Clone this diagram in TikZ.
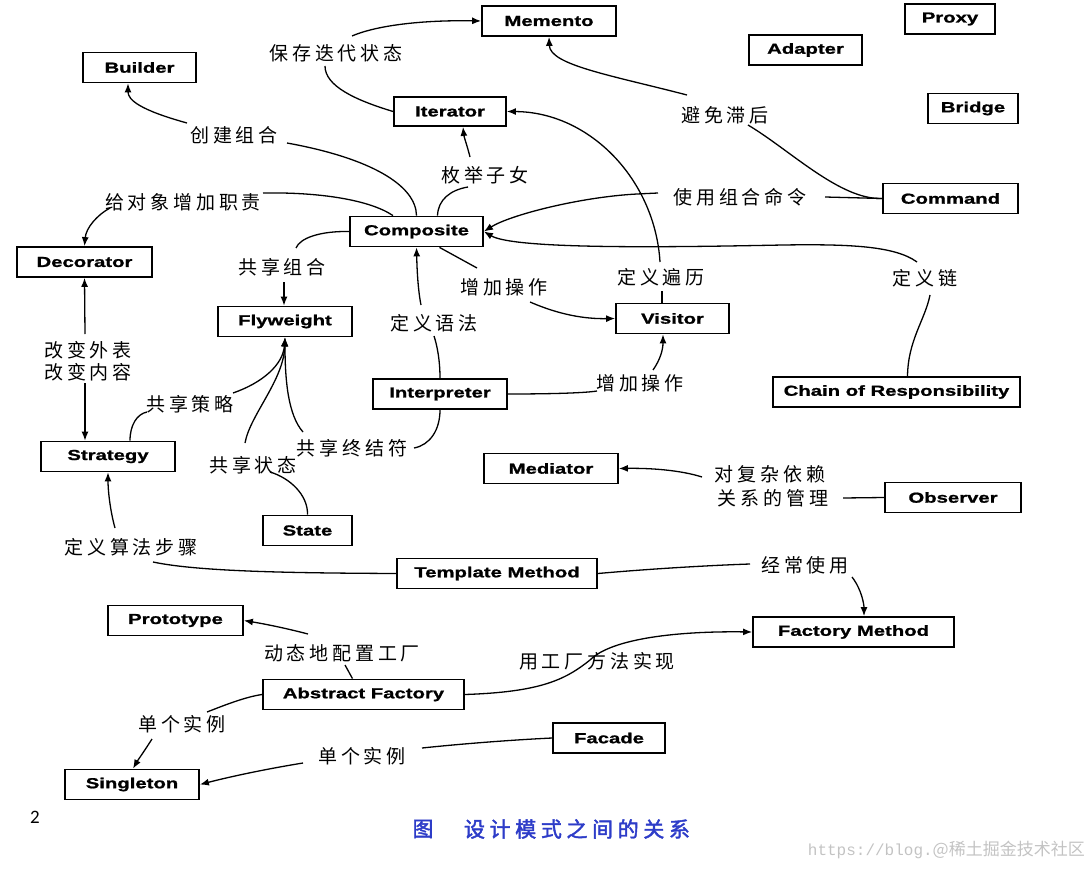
\documentclass[tikz,border=0pt]{standalone}
\usepackage{fontspec}
\usetikzlibrary{arrows.meta}
\newfontfamily\cjk[LetterSpace=20]{Noto Sans CJK SC}
\newfontfamily\cjkplain{Noto Sans CJK SC}
\newfontfamily\capfont[FakeBold=2,LetterSpace=22]{Noto Sans CJK SC}
\newfontfamily\boxfont[FakeStretch=1.4,BoldFeatures={FakeBold=1.2}]{Liberation Sans}
\newfontfamily\numfont{Carlito}
\newfontfamily\wmmono{Liberation Mono}
\definecolor{capblue}{RGB}{45,60,200}
\definecolor{wmgray}{RGB}{195,195,195}
\begin{document}
\begin{tikzpicture}[x=1pt,y=-1pt,
  pbox/.style={draw, line width=1.8pt, inner sep=0pt, minimum height=30pt,
    font=\boxfont\bfseries\fontsize{14.5}{16}\selectfont},
  lbl/.style={inner sep=0pt, font=\cjk\fontsize{19}{21}\selectfont},
  con/.style={line width=1.3pt},
  arr/.style={con, -{Latex[length=9pt,width=7pt]}}]
\useasboundingbox (0,0) rectangle (1091,869);

% boxes
\node[pbox, minimum width=134pt] (memento) at (549,21) {Memento};
\node[pbox, minimum width=90pt] (proxy) at (950,19) {Proxy};
\node[pbox, minimum width=113pt] (adapter) at (805.5,50) {Adapter};
\node[pbox, minimum width=113pt] (builder) at (139.5,67.5) {Builder};
\node[pbox, minimum width=112pt, minimum height=29pt] (iterator) at (450,111.5) {Iterator};
\node[pbox, minimum width=90pt] (bridge) at (973,108.5) {Bridge};
\node[pbox, minimum width=135pt] (command) at (950.5,198.5) {Command};
\node[pbox, minimum width=133pt] (composite) at (416.5,231.5) {Composite};
\node[pbox, minimum width=135pt] (decorator) at (84.5,262) {Decorator};
\node[pbox, minimum width=134pt] (flyweight) at (285,321.5) {Flyweight};
\node[pbox, minimum width=113pt] (visitor) at (672.5,318.5) {Visitor};
\node[pbox, minimum width=134pt] (interpreter) at (440,394) {Interpreter};
\node[pbox, minimum width=247pt] (chain) at (896.5,392) {Chain of Responsibility};
\node[pbox, minimum width=134pt] (strategy) at (108,456.5) {Strategy};
\node[pbox, minimum width=134pt] (mediator) at (551,468.5) {Mediator};
\node[pbox, minimum width=136pt] (observer) at (953,497.5) {Observer};
\node[pbox, minimum width=89pt] (state) at (307.5,530.5) {State};
\node[pbox, minimum width=200pt] (template) at (497,573.5) {Template Method};
\node[pbox, minimum width=135pt] (prototype) at (175.5,620.5) {Prototype};
\node[pbox, minimum width=201pt] (factory) at (853.5,632) {Factory Method};
\node[pbox, minimum width=201pt] (abstract) at (363.5,694.5) {Abstract Factory};
\node[pbox, minimum width=112pt] (facade) at (609,738) {Facade};
\node[pbox, minimum width=134pt] (singleton) at (132,784.5) {Singleton};

% labels
\node[lbl] (lSave) at (336,53) {保存迭代状态};
\node[lbl] (lBuild) at (234,135) {创建组合};
\node[lbl] (lDeco) at (183,202) {给对象增加职责};
\node[lbl] (lEnum) at (485,175) {枚举子女};
\node[lbl] (lAvoid) at (725,115) {避免滞后};
\node[lbl] (lUseCmd) at (740,197) {使用组合命令};
\node[lbl] (lShareComp) at (282,267) {共享组合};
\node[lbl] (lAddOpA) at (504,287) {增加操作};
\node[lbl] (lTrav) at (661,277) {定义遍历};
\node[lbl] (lChain) at (925,278) {定义链};
\node[lbl] (lGram) at (434,323) {定义语法};
\node[lbl] (lLook) at (88,350) {改变外表};
\node[lbl] (lCont) at (88,372) {改变内容};
\node[lbl] (lStrat) at (190,404) {共享策略};
\node[lbl] (lAddOpB) at (640,383) {增加操作};
\node[lbl] (lTerm) at (352,448) {共享终结符};
\node[lbl] (lState) at (253,465) {共享状态};
\node[lbl] (lCx1) at (770,474) {对复杂依赖};
\node[lbl] (lCx2) at (773,498) {关系的管理};
\node[lbl] (lAlg) at (131,547) {定义算法步骤};
\node[lbl] (lOften) at (805,565) {经常使用};
\node[lbl] (lDyn) at (342,653) {动态地配置工厂};
\node[lbl] (lImpl) at (597,661) {用工厂方法实现};
\node[lbl] (lSingA) at (182,724) {单个实例};
\node[lbl] (lSingB) at (362,756) {单个实例};

% free ends of connectors
\coordinate (s1a) at (325,66);  \coordinate (s1b) at (352,36);
\coordinate (b1) at (287,143);  \coordinate (b2) at (187,123);
\coordinate (d1) at (263,193);  \coordinate (d2) at (110,208);
\coordinate (e1) at (468,187);  \coordinate (e2) at (470,157);
\coordinate (t1) at (660,262);  \coordinate (t2) at (662,291);
\coordinate (u1) at (658,193);  \coordinate (u2) at (825,197);
\coordinate (a1) at (748,125);  \coordinate (a2) at (687,95);
\coordinate (ch1) at (930,295); \coordinate (ch2) at (917,262);
\coordinate (o1) at (477,268);  \coordinate (o2) at (530,302);
\coordinate (o3) at (597,391);  \coordinate (o4) at (653,370);
\coordinate (g1) at (434,336);  \coordinate (g2) at (421,305);
\coordinate (te1) at (414,448); \coordinate (te2) at (303,432);
\coordinate (sc1) at (296,248); \coordinate (sc2) at (284,282);
\coordinate (cl1) at (85,334);  \coordinate (cl2) at (85,383);
\coordinate (ss1) at (147,412); \coordinate (ss2) at (233,393);
\coordinate (st1) at (245,443); \coordinate (st2) at (270,472);
\coordinate (al1) at (153,562); \coordinate (al2) at (115,528);
\coordinate (cx1) at (843,498); \coordinate (cx2) at (702,477);
\coordinate (of1) at (750,564); \coordinate (of2) at (852,577);
\coordinate (dc1) at (345,665); \coordinate (dc2) at (308,634);
\coordinate (si1) at (207,712); \coordinate (si2) at (152,739);
\coordinate (si3) at (422,748); \coordinate (si4) at (303,763);

% connectors
\draw[con] (iterator.west) .. controls (355,100) and (325,86) .. (s1a);
\draw[arr] (s1b) .. controls (380,24) and (430,20) .. (memento.west);

\draw[con] (composite.north) .. controls (416,185) and (370,158) .. (b1);
\draw[arr] (b2) .. controls (140,110) and (128,100) .. ([xshift=-11.5]builder.south);

\draw[con] ([xshift=-23.5]composite.north) .. controls (370,200) and (320,192) .. (d1);
\draw[arr] (d2) .. controls (97,215) and (86,228) .. (decorator.north);

\draw[con] ([xshift=21]composite.north) .. controls (438,200) and (450,190) .. (e1);
\draw[arr] (e2) .. controls (467,145) and (464,137) .. ([xshift=13]iterator.south);

\draw[arr] (t1) .. controls (655,180) and (590,112) .. (iterator.east);
\draw[con] (t2) -- ([xshift=-10.5]visitor.north);

\draw[con] (command.west) -- (u2);
\draw[arr] (u1) -- (637,194) .. controls (580,197) and (510,215) .. (composite.east);

\draw[con] (command.west) .. controls (840,200) and (790,150) .. (a1);
\draw[arr] (a2) .. controls (610,75) and (550,65) .. (memento.south);

\draw[con] ([xshift=11]chain.north) .. controls (908,340) and (925,320) .. (ch1);
\draw[arr] (ch2) .. controls (895,246) and (850,244) .. (783,245) .. controls (680,247) and (515,250) .. (composite.east);

\draw[con] ([xshift=23]composite.south) -- (o1);
\draw[arr] (o2) .. controls (560,315) and (585,319) .. (visitor.west);

\draw[con] (interpreter.east) .. controls (550,394) and (585,393) .. (o3);
\draw[arr] (o4) .. controls (660,360) and (663,350) .. ([xshift=-9.5]visitor.south);

\draw[con] (interpreter.north) .. controls (440,360) and (437,345) .. (g1);
\draw[arr] (g2) .. controls (418,290) and (417,270) .. (composite.south);

\draw[con] (interpreter.south) .. controls (440,430) and (430,445) .. (te1);

\draw[con] (composite.west) .. controls (320,231) and (300,238) .. (sc1);
\draw[arr] (sc2) -- ([xshift=-1]flyweight.north);

\draw[arr] (cl1) -- (decorator.south);
\draw[arr] (cl2) -- ([xshift=-23]strategy.north);

\draw[con] ([xshift=22]strategy.north) .. controls (130,425) and (137,414) .. (ss1);
\draw[arr] (ss2) .. controls (262,383) and (283,365) .. (flyweight.south);
\draw[arr] (st1) .. controls (250,415) and (284,380) .. (flyweight.south);
\draw[arr] (te2) .. controls (288,415) and (285,380) .. (flyweight.south);
\draw[con] (state.north) .. controls (308,495) and (290,478) .. (st2);

\draw[con] (template.west) .. controls (300,573) and (200,572) .. (al1);
\draw[arr] (al2) .. controls (110,510) and (108,490) .. (strategy.south);

\draw[con] (observer.west) -- (cx1);
\draw[arr] (cx2) .. controls (680,470) and (650,468) .. (mediator.east);

\draw[con] (template.east) .. controls (660,568) and (720,565) .. (of1);
\draw[arr] (of2) .. controls (862,590) and (864,605) .. ([xshift=10.5]factory.north);

\draw[arr] (abstract.east) .. controls (540,692) and (565,680) .. (590,660) .. controls (612,638) and (680,631) .. (factory.west);

\draw[con] ([xshift=-11]abstract.north) -- (dc1);
\draw[arr] (dc2) .. controls (285,628) and (265,624) .. (prototype.east);

\draw[con] (abstract.west) .. controls (245,697) and (225,705) .. (si1);
\draw[arr] (si2) .. controls (145,750) and (138,760) .. ([xshift=1]singleton.north);

\draw[con] (facade.west) .. controls (510,740) and (460,744) .. (si3);
\draw[arr] (si4) .. controls (260,770) and (225,778) .. (singleton.east);

% page number, caption, watermark
\node[inner sep=0pt, font=\numfont\fontsize{19}{20}\selectfont] (num) at (35,817) {2};
\node[inner sep=0pt, text=capblue, font=\capfont\fontsize{21}{22}\selectfont] (cap1) at (423,829) {图};
\node[inner sep=0pt, text=capblue, font=\capfont\fontsize{21}{22}\selectfont] (cap2) at (577,829) {设计模式之间的关系};
\node[inner sep=0pt, anchor=east, text=wmgray] (wm) at (1085,850)
  {{\wmmono\fontsize{16}{18}\selectfont https://blog.}{\cjkplain\fontsize{17}{18}\selectfont @稀土掘金技术社区}};
\end{tikzpicture}
\end{document}
